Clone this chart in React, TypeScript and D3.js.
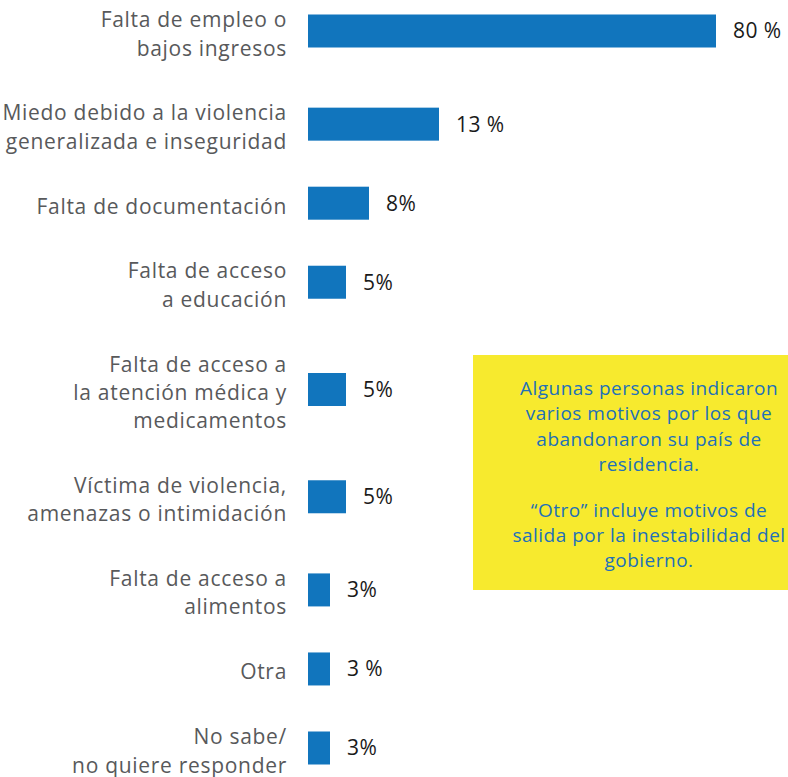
import React from "react";
import * as d3 from "d3";

// ── Data ──────────────────────────────────────────────────────────────────────

const categories = [
  "Falta de empleo o\nbajos ingresos",
  "Miedo debido a la violencia\ngeneralizada e inseguridad",
  "Falta de documentación",
  "Falta de acceso\na educación",
  "Falta de acceso a\nla atención médica y\nmedicamentos",
  "Víctima de violencia,\namenazas o intimidación",
  "Falta de acceso a\nalimentos",
  "Otra",
  "No sabe/\nno quiere responder",
];
const values = [80, 13, 8, 5, 5, 5, 3, 3, 3];
const valueLabels = ["80 %", "13 %", "8%", "5%", "5%", "5%", "3%", "3 %", "3%"];

const noteParagraphs = [
  ["Algunas personas indicaron", "varios motivos por los que", "abandonaron su país de", "residencia."],
  ["“Otro” incluye motivos de", "salida por la inestabilidad del", "gobierno."],
];

// ── Constants ─────────────────────────────────────────────────────────────────

const WIDTH = 788;
const HEIGHT = 777;
const BAR_X = 308;
const BAR_H = 33;
const LINE_H = 28.3;
const GAP_UNITS = 1.3;
const FONT = "'Open Sans', Lato, sans-serif";
const BAR_COLOR = "#1175bd";
const LABEL_COLOR = "#58595b";
const NOTE_COLOR = "#2270b8";

const NOTE_BOX = { x: 473, y: 355, h: 235 };
const NOTE_CX = 649;
const NOTE_LINE_H = 25.4;
const NOTE_PARA_GAP = 20;

export default function App() {
  const lines = categories.map((c) => c.split("\n"));

  // row centres in "line units", then mapped to pixels by a linear scale
  const units: number[] = [];
  let acc = 0;
  lines.forEach((l) => {
    const h = l.length + GAP_UNITS;
    units.push(acc + h / 2);
    acc += h;
  });
  const y = d3
    .scaleLinear()
    .domain([units[0], units[units.length - 1]])
    .range([34, 751]);

  // infographic bars are not strictly proportional — piecewise scale
  const x = d3
    .scaleLinear()
    .domain([0, 3, 5, 8, 13, 80])
    .range([0, 22, 38, 61, 131, 408]);

  let noteY = 395;
  const noteLines: { t: string; y: number }[] = [];
  noteParagraphs.forEach((p, pi) => {
    if (pi > 0) noteY += NOTE_PARA_GAP;
    p.forEach((t) => {
      noteLines.push({ t, y: noteY });
      noteY += NOTE_LINE_H;
    });
  });

  return (
    <svg
      width={WIDTH}
      height={HEIGHT}
      style={{ position: "absolute", left: 0, top: 0, background: "#fff" }}
      fontFamily={FONT}
    >
      {/* note box */}
      <rect
        x={NOTE_BOX.x}
        y={NOTE_BOX.y}
        width={WIDTH - NOTE_BOX.x}
        height={NOTE_BOX.h}
        fill="#f7ea2e"
      />
      {noteLines.map((d, i) => (
        <text
          key={`n${i}`}
          x={NOTE_CX}
          y={d.y}
          textAnchor="middle"
          fontSize={19}
          letterSpacing={0.5}
          fill={NOTE_COLOR}
        >
          {d.t}
        </text>
      ))}

      {categories.map((c, i) => {
        const cy = y(units[i]);
        const l = lines[i];
        const w = x(values[i]);
        const barCy = cy - 3;
        return (
          <g key={c}>
            {l.map((t, li) => (
              <text
                key={li}
                x={287}
                y={cy + (li - (l.length - 1) / 2) * LINE_H}
                dy="0.35em"
                textAnchor="end"
                fontSize={21}
                letterSpacing={0.7}
                fill={LABEL_COLOR}
              >
                {t}
              </text>
            ))}
            <rect x={BAR_X} y={barCy - BAR_H / 2} width={w} height={BAR_H} fill={BAR_COLOR} />
            <text
              x={BAR_X + w + 17}
              y={barCy}
              dy="0.35em"
              fontSize={21}
              letterSpacing={0.4}
              fill="#1a1a1a"
            >
              {valueLabels[i]}
            </text>
          </g>
        );
      })}
    </svg>
  );
}
